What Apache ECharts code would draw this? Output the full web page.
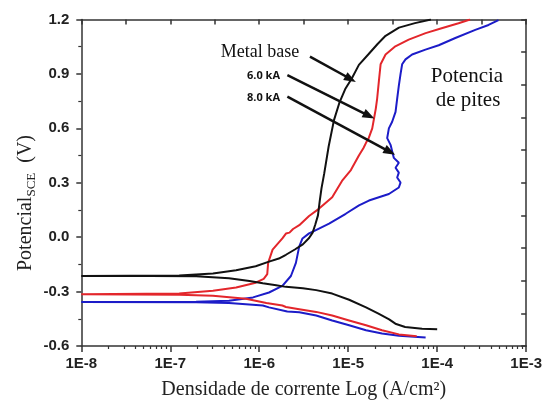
<!DOCTYPE html>
<html><head><meta charset="utf-8">
<script src="https://cdn.jsdelivr.net/npm/echarts@6/dist/echarts.min.js"></script>
<style>html,body{margin:0;padding:0;background:#fff}#c{width:545px;height:405px}</style>
</head><body><div id="c"></div>
<script>
// Log10 of current density (A/cm2) and potential (V), cathodic branch then anodic branch
const blackLogI = [-4.00,-4.17,-4.36,-4.47,-4.54,-4.66,-4.80,-4.99,-5.18,-5.36,-5.51,-5.70,-5.81,-5.96,-6.11,-6.34,-6.71,-7.23,-8.00,
  -8.00,-6.90,-6.52,-6.26,-6.04,-5.89,-5.78,-5.70,-5.60,-5.51,-5.44,-5.40,-5.37,-5.34,-5.32,-5.30,-5.27,-5.22,-5.16,-5.10,-5.03,-4.96,-4.88,-4.77,-4.67,-4.58,-4.43,-4.25,-4.07];
const blackE = [-0.508,-0.505,-0.495,-0.477,-0.453,-0.422,-0.387,-0.345,-0.311,-0.292,-0.281,-0.274,-0.265,-0.254,-0.242,-0.226,-0.216,-0.214,-0.214,
  -0.212,-0.211,-0.200,-0.182,-0.160,-0.135,-0.118,-0.097,-0.068,-0.040,-0.005,0.025,0.070,0.120,0.200,0.270,0.350,0.500,0.645,0.740,0.820,0.875,0.950,1.010,1.065,1.110,1.155,1.180,1.200];

const redLogI = [-4.23,-4.43,-4.62,-4.80,-4.99,-5.18,-5.36,-5.55,-5.70,-5.74,-5.92,-6.15,-6.52,-6.90,-8.00,
  -8.00,-6.90,-6.52,-6.26,-6.04,-5.95,-5.91,-5.90,-5.85,-5.74,-5.70,-5.66,-5.62,-5.55,-5.44,-5.33,-5.18,-5.07,-4.97,-4.88,-4.83,-4.80,-4.77,-4.73,-4.71,-4.69,-4.675,-4.655,-4.636,-4.58,-4.47,-4.32,-4.13,-3.95,-3.76,-3.63];
const redE = [-0.546,-0.536,-0.513,-0.486,-0.459,-0.432,-0.412,-0.397,-0.385,-0.377,-0.363,-0.340,-0.323,-0.318,-0.315,
  -0.312,-0.311,-0.296,-0.278,-0.251,-0.230,-0.204,-0.142,-0.069,-0.007,0.020,0.025,0.045,0.066,0.117,0.156,0.220,0.310,0.370,0.450,0.490,0.520,0.546,0.600,0.654,0.709,0.763,0.862,0.953,1.007,1.052,1.089,1.125,1.152,1.179,1.200];

const blueLogI = [-4.13,-4.43,-4.62,-4.80,-4.99,-5.18,-5.36,-5.55,-5.685,-5.70,-5.89,-5.96,-6.34,-6.71,-8.00,
  -8.00,-6.71,-6.34,-6.07,-5.89,-5.78,-5.74,-5.644,-5.588,-5.551,-5.514,-5.44,-5.38,-5.37,-5.215,-5.028,-4.879,-4.767,-4.543,-4.431,-4.412,-4.45,-4.431,-4.468,-4.431,-4.487,-4.506,-4.524,-4.562,-4.543,-4.506,-4.468,-4.45,-4.431,-4.412,-4.394,-4.356,-4.282,-4.132,-3.983,-3.796,-3.572,-3.423,-3.311];
const blueE = [-0.553,-0.544,-0.531,-0.513,-0.486,-0.459,-0.432,-0.414,-0.410,-0.400,-0.387,-0.377,-0.363,-0.359,-0.357,
  -0.356,-0.356,-0.350,-0.332,-0.305,-0.278,-0.269,-0.214,-0.142,-0.052,-0.007,0.021,0.035,0.045,0.075,0.129,0.175,0.202,0.238,0.274,0.301,0.329,0.356,0.383,0.410,0.437,0.474,0.509,0.546,0.600,0.636,0.691,0.763,0.835,0.899,0.953,0.980,1.007,1.034,1.058,1.098,1.143,1.170,1.197];

// annotation arrows: [logI start, E start, logI end, E end]
const arrowMetal = [-5.430, 0.995, -4.973, 0.872];
const arrow60 = [-5.684, 0.893, -4.766, 0.669];
const arrow80 = [-5.684, 0.775, -4.532, 0.470];

const xExpMin = -8, xExpMax = -3;
const yMin = -0.6, yMax = 1.2, yStep = 0.3;

const toPairs = (l, e) => l.map((v, i) => [Math.pow(10, v), e[i]]);
const minorTickVals = [];
for (let n = xExpMin; n < xExpMax; n++) for (let k = 2; k <= 9; k++) minorTickVals.push(n + Math.log10(k));
const arrowLine = a => [{coord: [Math.pow(10, a[0]), a[1]]}, {coord: [Math.pow(10, a[2]), a[3]]}];

const AX = '#333';
const lineS = {color: AX, width: 1.5};
const chart = echarts.init(document.getElementById('c'));
chart.setOption({
  animation: false,
  backgroundColor: '#fff',
  grid: {left: 81.3, right: 17.3, top: 19.5, bottom: 54, containLabel: false},
  xAxis: [
    {type: 'log', logBase: 10, min: Math.pow(10, xExpMin), max: Math.pow(10, xExpMax), position: 'bottom',
     axisLine: {show: true, onZero: false, lineStyle: lineS},
     axisTick: {show: true, inside: false, length: 6, lineStyle: lineS},
     minorTick: {show: false}, splitLine: {show: false},
     axisLabel: {formatter: v => '1E' + Math.round(Math.log10(v)), fontFamily: 'Liberation Sans', fontWeight: 'bold', fontSize: 15, color: '#222', margin: 10},
     name: 'Densidade de corrente Log (A/cm²)', nameLocation: 'middle', nameGap: 34,
     nameTextStyle: {fontFamily: 'Liberation Serif', fontSize: 20, color: '#222'}},
    {type: 'value', min: xExpMin, max: xExpMax, position: 'bottom',
     axisLine: {show: false, onZero: false}, axisLabel: {show: false}, splitLine: {show: false},
     axisTick: {show: true, customValues: minorTickVals, length: 3, lineStyle: {color: AX, width: 1.2}}},
    {type: 'value', min: 0, max: 10, interval: 1, position: 'top',
     axisLine: {show: true, onZero: false, lineStyle: lineS}, axisLabel: {show: false}, splitLine: {show: false},
     axisTick: {show: true, inside: true, length: 5, lineStyle: lineS}}
  ],
  yAxis: [
    {type: 'value', min: yMin, max: yMax, interval: yStep, position: 'left',
     axisLine: {show: true, onZero: false, lineStyle: lineS},
     axisTick: {show: true, inside: false, length: 5, lineStyle: lineS},
     minorTick: {show: true, splitNumber: 2, length: 3, lineStyle: {color: AX, width: 1.2}},
     splitLine: {show: false},
     axisLabel: {formatter: v => v.toFixed(1), fontFamily: 'Liberation Sans', fontWeight: 'bold', fontSize: 15, color: '#222', margin: 12}},
    {type: 'value', min: 0, max: 10, interval: 1, position: 'right',
     axisLine: {show: true, onZero: false, lineStyle: lineS}, axisLabel: {show: false}, splitLine: {show: false},
     axisTick: {show: true, inside: true, length: 5, lineStyle: lineS}}
  ],
  series: [
    {name: 'Metal base', type: 'line', xAxisIndex: 0, yAxisIndex: 0, data: toPairs(blackLogI, blackE),
     showSymbol: false, lineStyle: {color: '#111', width: 2}, z: 3,
     markLine: {silent: true, symbol: ['none', 'triangle'], symbolSize: [9, 12], label: {show: false},
       lineStyle: {color: '#111', width: 2.5, type: 'solid'}, itemStyle: {color: '#111'},
       data: [arrowLine(arrowMetal), arrowLine(arrow60), arrowLine(arrow80)]}},
    {name: '6.0 kA', type: 'line', xAxisIndex: 0, yAxisIndex: 0, data: toPairs(redLogI, redE),
     showSymbol: false, lineStyle: {color: '#e3262b', width: 2}, z: 2},
    {name: '8.0 kA', type: 'line', xAxisIndex: 0, yAxisIndex: 0, data: toPairs(blueLogI, blueE),
     showSymbol: false, lineStyle: {color: '#1c1cc8', width: 2}, z: 1}
  ],
  graphic: [
    {type: 'text', x: 27, y: 203, rotation: Math.PI / 2,
     style: {text: '{a|Potencial}{s|SCE}{a|  (V)}', align: 'center', verticalAlign: 'middle',
       rich: {a: {fontFamily: 'Liberation Serif', fontSize: 20, fill: '#222', verticalAlign: 'bottom', padding: [0, 0, 3, 0]},
              s: {fontFamily: 'Liberation Serif', fontSize: 13, fill: '#222', verticalAlign: 'bottom'}}}},
    {type: 'text', x: 260, y: 52, style: {text: 'Metal base', font: '18px "Liberation Serif"', fill: '#111', align: 'center', verticalAlign: 'middle'}},
    {type: 'text', x: 247, y: 76, style: {text: '6.0 kA', font: 'bold 11px "Open Sans"', fill: '#111', align: 'left', verticalAlign: 'middle'}},
    {type: 'text', x: 247, y: 98, style: {text: '8.0 kA', font: 'bold 11px "Open Sans"', fill: '#111', align: 'left', verticalAlign: 'middle'}},
    {type: 'text', x: 467, y: 76, style: {text: 'Potencia', font: '21px "Liberation Serif"', fill: '#111', align: 'center', verticalAlign: 'middle'}},
    {type: 'text', x: 468, y: 100, style: {text: 'de pites', font: '21px "Liberation Serif"', fill: '#111', align: 'center', verticalAlign: 'middle'}}
  ]
});
</script>
</body></html>
